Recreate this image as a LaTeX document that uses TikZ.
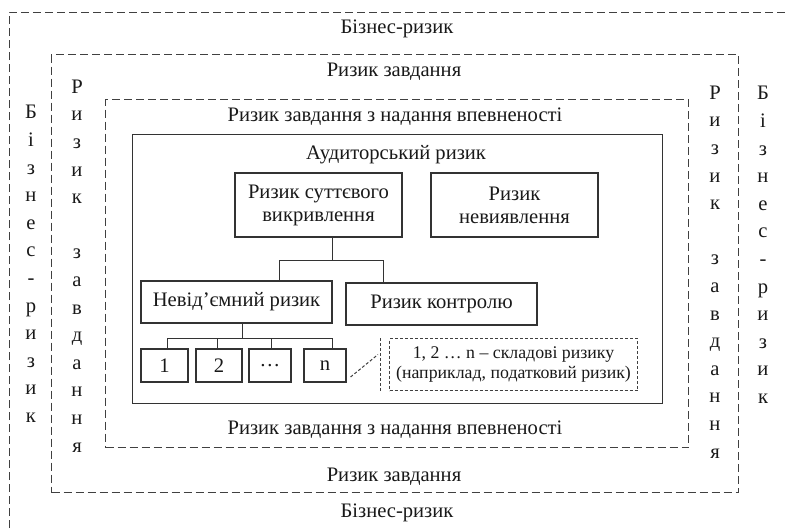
\documentclass[tikz,border=0pt]{standalone}
\usepackage{fontspec}
\setmainfont{Liberation Serif}
\begin{document}
\begin{tikzpicture}[x=1pt,y=-1pt,
  every node/.style={font=\fontsize{20.6}{23}\selectfont, text=black!90},
  solidbox/.style={draw=black!80, line width=1.1pt, inner sep=0pt, align=center},
  frame/.style={draw=black!75, line width=1pt, dash pattern=on 8pt off 4pt},
  notebox/.style={draw=black!75, line width=1pt, dash pattern=on 3pt off 2pt},
  conn/.style={draw=black!80, line width=1pt},
  vstack/.style={align=center, font=\fontsize{20.6}{27.6}\selectfont, inner sep=0pt}]
\useasboundingbox (0,0) rectangle (785,528);

% frames
\draw[frame] (9,528) -- (9,12) -- (785,12);
\node[frame, minimum width=687pt, minimum height=438pt, anchor=north west, inner sep=0pt] (f2) at (51,54) {};
\node[frame, minimum width=583pt, minimum height=348pt, anchor=north west, inner sep=0pt] (f3) at (105,99) {};
\node[solidbox, minimum width=530pt, minimum height=269pt, anchor=north west] (f4) at (132,134) {};

% frame labels
\node (t1) at (397,29) {Бізнес-ризик};
\node (t2) at (394,72) {Ризик завдання};
\node (t3) at (395,117) {Ризик завдання з надання впевненості};
\node (t4) at (396,155) {Аудиторський ризик};
\node (b3) at (395,430) {Ризик завдання з надання впевненості};
\node (b2) at (394,477) {Ризик завдання};
\node (b1) at (397,513) {Бізнес-ризик};

% vertical labels
\node[vstack] (vl1) at (31,264) {Б\\і\\з\\н\\е\\с\\-\\р\\и\\з\\и\\к};
\node[vstack] (vl2) at (77,266) {Р\\и\\з\\и\\к\\\mbox{}\\з\\а\\в\\д\\а\\н\\н\\я};
\node[vstack] (vr2) at (715,272) {Р\\и\\з\\и\\к\\\mbox{}\\з\\а\\в\\д\\а\\н\\н\\я};
\node[vstack] (vr1) at (763,245) {Б\\і\\з\\н\\е\\с\\-\\р\\и\\з\\и\\к};

% risk boxes
\node[solidbox, minimum width=167pt, minimum height=64pt] (sv) at (318.5,205) {Ризик суттєвого\\викривлення};
\node[solidbox, minimum width=167pt, minimum height=64pt] (nv) at (514.5,205) {Ризик\\невиявлення};
\node[solidbox, minimum width=191pt, minimum height=42pt] (inh) at (236.5,302) {Невід’ємний ризик};
\node[solidbox, minimum width=191pt, minimum height=42pt] (ctl) at (441.5,304) {Ризик контролю};

\node[solidbox, minimum width=47pt, minimum height=33pt] (c1) at (164.5,365.5) {1};
\node[solidbox, minimum width=46pt, minimum height=33pt] (c2) at (219,365.5) {2};
\node[solidbox, minimum width=42pt, minimum height=33pt] (c3) at (270,365.5) {…};
\node[solidbox, minimum width=42pt, minimum height=33pt] (cn) at (325,365.5) {n};

% connectors
\draw[conn] ([xshift=13.5pt]sv.south) -- ++(0,23) coordinate (j1);
\draw[conn] ([xshift=42.5pt]inh.north) |- (j1) -| ([xshift=-58.5pt]ctl.north);
\draw[conn] ([xshift=5.5pt]inh.south) -- ++(0,15) coordinate (j2);
\draw[conn] ([xshift=2.5pt]c1.north) |- (j2) -| ([xshift=7pt]cn.north);
\draw[conn] ([xshift=-2pt]c2.north) -- ([xshift=-2pt]c2.north |- j2);
\draw[conn] ([xshift=1pt]c3.north) -- ([xshift=1pt]c3.north |- j2);

% note
\node[notebox, minimum width=248pt, minimum height=52pt, anchor=north west, inner sep=0pt, align=center,
      font=\fontsize{17.8}{20}\selectfont] (note) at (389,338) {1, 2 … n – складові ризику\\(наприклад, податковий ризик)};
\draw[notebox] ([xshift=-9pt]note.north west) -- ([xshift=-9pt]note.south west);
\draw[notebox] ([xshift=4pt,yshift=-11.5pt]cn.east) -- ([xshift=-11pt,yshift=10pt]note.west);
\end{tikzpicture}
\end{document}
